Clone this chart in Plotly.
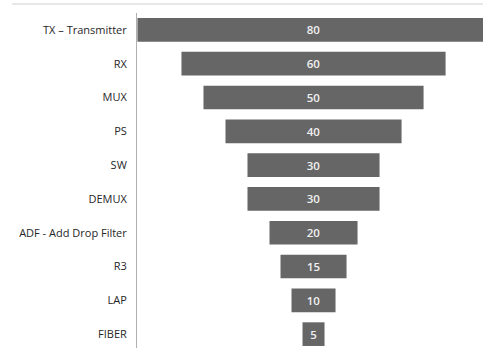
import plotly.graph_objects as go

categories = ["TX – Transmitter", "RX", "MUX", "PS", "SW", "DEMUX",
              "ADF - Add Drop Filter", "R3", "LAP", "FIBER"]
values = [80, 60, 50, 40, 30, 30, 20, 15, 10, 5]

W, H = 483, 348
ML, MR, MT, MB = 137, 0, 13, 0

fig = go.Figure(go.Funnel(
    y=categories,
    x=values,
    textinfo="value",
    textposition="inside",
    insidetextanchor="middle",
    textfont=dict(family="Open Sans", size=11.5, color="#f0f0f0", weight=600),
    marker=dict(color="#666666", line=dict(width=0)),
    connector=dict(visible=False),
    hoverinfo="y+x",
))

plot_w = W - ML - MR
fig.update_layout(
    width=W, height=H,
    margin=dict(l=ML, r=MR, t=MT, b=MB, pad=0),
    paper_bgcolor="white", plot_bgcolor="white",
    funnelgap=0.3,
    showlegend=False,
    xaxis=dict(visible=False, range=[-40.1, 38.5], fixedrange=True),
    yaxis=dict(
        type="category",
        range=[9.41, -0.5],
        showline=True, linecolor="#b0b0b0", linewidth=1,
        showgrid=False, zeroline=False,
        ticks="", ticklabelstandoff=7,
        tickfont=dict(family="Open Sans", size=11, color="#262626"),
    ),
    shapes=[dict(
        type="line", xref="paper", yref="paper",
        x0=(12 - ML) / plot_w, x1=1.0,
        y0=1 + (MT - 4) / (H - MT - MB), y1=1 + (MT - 4) / (H - MT - MB),
        line=dict(color="#d0d0d0", width=1),
    )],
)

fig.write_html("out.html")
